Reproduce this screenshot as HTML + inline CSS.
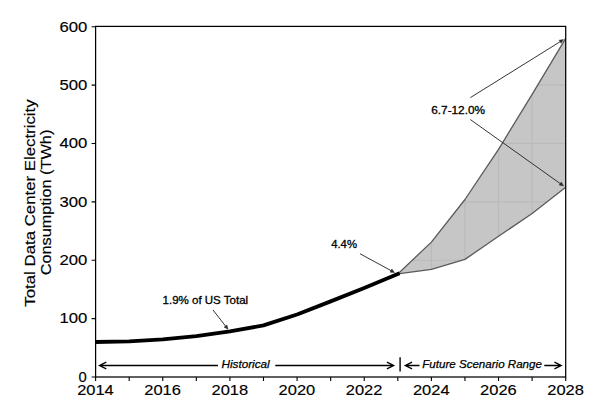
<!DOCTYPE html><html><head><meta charset="utf-8"><style>html,body{margin:0;padding:0;background:#fff;}svg{display:block;}text{font-family:"Liberation Sans",sans-serif;fill:#000;stroke:#000;stroke-width:0.15px;}</style></head><body>
<svg width="600" height="406" viewBox="0 0 600 406">
<rect width="600" height="406" fill="#fff"/>
<defs><clipPath id="fc"><polygon points="397.81,273.95 431.39,242.13 464.96,199.51 498.54,149.31 532.12,94.42 565.70,38.38 565.70,187.25 532.12,213.53 498.54,236.30 464.96,259.36 431.39,269.28 397.81,273.95"/></clipPath><clipPath id="ax"><rect x="95.6" y="26.7" width="470.1" height="350.3"/></clipPath></defs>
<polygon points="397.81,273.95 431.39,242.13 464.96,199.51 498.54,149.31 532.12,94.42 565.70,38.38 565.70,187.25 532.12,213.53 498.54,236.30 464.96,259.36 431.39,269.28 397.81,273.95" fill="#c6c6c6" stroke="none"/>
<path d="M95.60 26.70V377.00M129.18 26.70V377.00M162.76 26.70V377.00M196.34 26.70V377.00M229.91 26.70V377.00M263.49 26.70V377.00M297.07 26.70V377.00M330.65 26.70V377.00M364.23 26.70V377.00M397.81 26.70V377.00M431.39 26.70V377.00M464.96 26.70V377.00M498.54 26.70V377.00M532.12 26.70V377.00M565.70 26.70V377.00M95.60 377.00H565.70M95.60 318.62H565.70M95.60 260.23H565.70M95.60 201.85H565.70M95.60 143.47H565.70M95.60 85.08H565.70M95.60 26.70H565.70" stroke="#bababa" stroke-width="1.2" fill="none" clip-path="url(#fc)"/>
<polyline points="397.81,273.95 431.39,242.13 464.96,199.51 498.54,149.31 532.12,94.42 565.70,38.38" fill="none" stroke="#5a5a5a" stroke-width="1.3" stroke-linejoin="round"/>
<polyline points="397.81,273.95 431.39,269.28 464.96,259.36 498.54,236.30 532.12,213.53 565.70,187.25" fill="none" stroke="#5a5a5a" stroke-width="1.3" stroke-linejoin="round"/>
<polyline points="95.60,341.97 129.18,341.39 162.76,339.34 196.34,336.13 229.91,331.46 263.49,325.33 297.07,314.53 330.65,301.39 364.23,287.97 397.81,273.95" fill="none" stroke="#000" stroke-width="3.8" stroke-linejoin="round" stroke-linecap="square" clip-path="url(#ax)"/>
<rect x="95.6" y="26.4" width="470.1" height="350.60" fill="none" stroke="#000" stroke-width="1.25"/>
<path d="M95.60 377.00v4.0M129.18 377.00v4.0M162.76 377.00v4.0M196.34 377.00v4.0M229.91 377.00v4.0M263.49 377.00v4.0M297.07 377.00v4.0M330.65 377.00v4.0M364.23 377.00v4.0M397.81 377.00v4.0M431.39 377.00v4.0M464.96 377.00v4.0M498.54 377.00v4.0M532.12 377.00v4.0M565.70 377.00v4.0M95.60 377.00h-4.0M95.60 318.62h-4.0M95.60 260.23h-4.0M95.60 201.85h-4.0M95.60 143.47h-4.0M95.60 85.08h-4.0M95.60 26.70h-4.0" stroke="#000" stroke-width="1.1" fill="none"/>
<text x="77.15" y="395.00" font-size="14.8" textLength="36.64" lengthAdjust="spacingAndGlyphs">2014</text>
<text x="144.31" y="395.00" font-size="14.8" textLength="36.64" lengthAdjust="spacingAndGlyphs">2016</text>
<text x="211.47" y="395.00" font-size="14.8" textLength="36.64" lengthAdjust="spacingAndGlyphs">2018</text>
<text x="278.62" y="395.00" font-size="14.8" textLength="36.64" lengthAdjust="spacingAndGlyphs">2020</text>
<text x="345.78" y="395.00" font-size="14.8" textLength="36.64" lengthAdjust="spacingAndGlyphs">2022</text>
<text x="412.94" y="395.00" font-size="14.8" textLength="36.64" lengthAdjust="spacingAndGlyphs">2024</text>
<text x="480.09" y="395.00" font-size="14.8" textLength="36.64" lengthAdjust="spacingAndGlyphs">2026</text>
<text x="547.25" y="395.00" font-size="14.8" textLength="36.64" lengthAdjust="spacingAndGlyphs">2028</text>
<text x="86.7" y="381.80" font-size="14.8" text-anchor="end" transform="translate(0,0)">0</text>
<text x="59.44" y="323.42" font-size="14.8" textLength="27.83" lengthAdjust="spacingAndGlyphs">100</text>
<text x="59.44" y="265.03" font-size="14.8" textLength="27.83" lengthAdjust="spacingAndGlyphs">200</text>
<text x="59.44" y="206.65" font-size="14.8" textLength="27.83" lengthAdjust="spacingAndGlyphs">300</text>
<text x="59.44" y="148.27" font-size="14.8" textLength="27.83" lengthAdjust="spacingAndGlyphs">400</text>
<text x="59.44" y="89.88" font-size="14.8" textLength="27.83" lengthAdjust="spacingAndGlyphs">500</text>
<text x="59.44" y="31.50" font-size="14.8" textLength="27.83" lengthAdjust="spacingAndGlyphs">600</text>
<text transform="translate(35.40,306.66) rotate(-90)" x="0" y="0" font-size="14.9" textLength="207.32" lengthAdjust="spacingAndGlyphs">Total Data Center Electricity</text>
<text transform="translate(50.80,275.34) rotate(-90)" x="0" y="0" font-size="14.9" textLength="145.69" lengthAdjust="spacingAndGlyphs">Consumption (TWh)</text>
<text x="162.53" y="303.70" font-size="11.0" style="stroke-width:0.3px" textLength="85.63" lengthAdjust="spacingAndGlyphs">1.9% of US Total</text>
<text x="331.17" y="248.30" font-size="11.0" style="stroke-width:0.3px" textLength="25.82" lengthAdjust="spacingAndGlyphs">4.4%</text>
<text x="431.26" y="114.00" font-size="11.0" style="stroke-width:0.3px" textLength="53.74" lengthAdjust="spacingAndGlyphs">6.7-12.0%</text>
<text x="221.47" y="368.20" font-size="10.9" font-style="italic" style="stroke-width:0.25px" textLength="48.19" lengthAdjust="spacingAndGlyphs">Historical</text>
<text x="422.28" y="368.10" font-size="10.9" font-style="italic" style="stroke-width:0.25px" textLength="119.65" lengthAdjust="spacingAndGlyphs">Future Scenario Range</text>
<path d="M218.00 365.50L99.49 365.50M106.29 362.20L99.49 365.50L106.29 368.80" stroke="#000" stroke-width="1.3" fill="none" stroke-linejoin="miter" stroke-linecap="butt"/>
<path d="M275.30 365.50L393.71 365.50M386.91 368.80L393.71 365.50L386.91 362.20" stroke="#000" stroke-width="1.3" fill="none" stroke-linejoin="miter" stroke-linecap="butt"/>
<path d="M419.50 365.50L405.29 365.50M412.09 362.20L405.29 365.50L412.09 368.80" stroke="#000" stroke-width="1.3" fill="none" stroke-linejoin="miter" stroke-linecap="butt"/>
<path d="M544.30 365.50L561.21 365.50M554.41 368.80L561.21 365.50L554.41 362.20" stroke="#000" stroke-width="1.3" fill="none" stroke-linejoin="miter" stroke-linecap="butt"/>
<path d="M400.1 357.3V371.6" stroke="#000" stroke-width="1.4"/>
<path d="M213.00 310.00L226.15 326.84" stroke="#2a2a2a" stroke-width="0.95" fill="none"/><path d="M224.12 327.16L228.00 329.20L226.96 324.94Z" fill="#2a2a2a" stroke="#2a2a2a" stroke-width="0.5" stroke-linejoin="miter"/>
<path d="M360.00 253.75L391.86 271.07" stroke="#2a2a2a" stroke-width="0.95" fill="none"/><path d="M390.13 272.17L394.50 272.50L391.85 269.01Z" fill="#2a2a2a" stroke="#2a2a2a" stroke-width="0.5" stroke-linejoin="miter"/>
<path d="M470.40 97.60L560.95 41.19" stroke="#2a2a2a" stroke-width="0.95" fill="none"/><path d="M561.06 43.24L563.50 39.60L559.15 40.19Z" fill="#2a2a2a" stroke="#2a2a2a" stroke-width="0.5" stroke-linejoin="miter"/>
<path d="M470.40 119.60L561.06 184.16" stroke="#2a2a2a" stroke-width="0.95" fill="none"/><path d="M559.20 185.05L563.50 185.90L561.29 182.11Z" fill="#2a2a2a" stroke="#2a2a2a" stroke-width="0.5" stroke-linejoin="miter"/>
</svg></body></html>
